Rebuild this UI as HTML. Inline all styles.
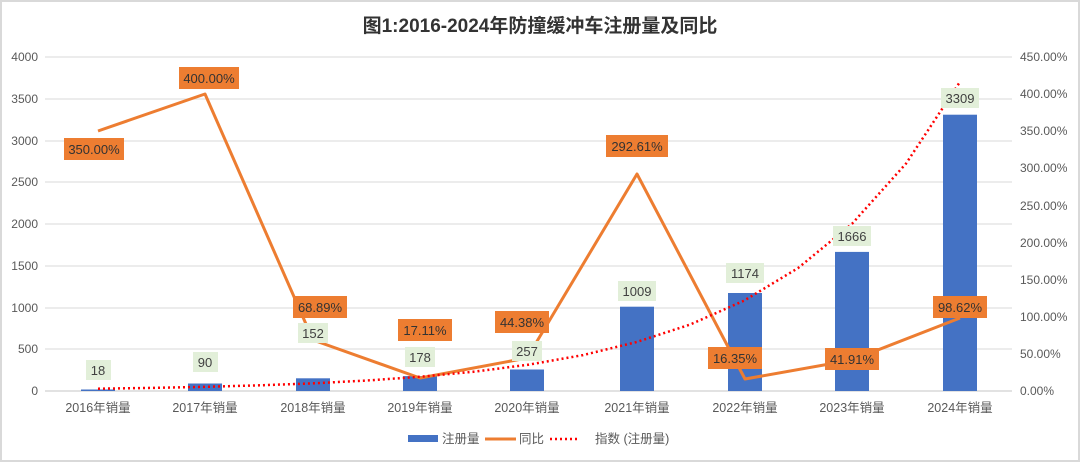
<!DOCTYPE html>
<html><head><meta charset="utf-8"><style>
html,body{margin:0;padding:0;background:#fff;}
svg text{font-family:"Liberation Sans","Noto Sans CJK SC",sans-serif;}
</style></head><body>
<svg width="1080" height="462" viewBox="0 0 1080 462" xmlns="http://www.w3.org/2000/svg">
<rect x="0" y="0" width="1080" height="462" fill="#fff"/>
<rect x="1" y="1" width="1078" height="460" fill="none" stroke="#d9d9d9" stroke-width="2"/>
<text x="540" y="32" text-anchor="middle" font-size="19" font-weight="bold" fill="#333">图1:2016-2024年防撞缓冲车注册量及同比</text>
<g stroke="#e6e6e6" stroke-width="1.5">
<line x1="45" x2="1012" y1="57" y2="57"/><line x1="45" x2="1012" y1="99" y2="99"/>
<line x1="45" x2="1012" y1="141" y2="141"/><line x1="45" x2="1012" y1="182" y2="182"/>
<line x1="45" x2="1012" y1="224" y2="224"/><line x1="45" x2="1012" y1="266" y2="266"/>
<line x1="45" x2="1012" y1="308" y2="308"/><line x1="45" x2="1012" y1="349" y2="349"/>
</g>
<line x1="45" x2="1012" y1="391" y2="391" stroke="#d9d9d9" stroke-width="1.5"/>
<g font-size="12" fill="#595959" text-anchor="end">
<text x="38" y="61">4000</text><text x="38" y="103">3500</text><text x="38" y="145">3000</text>
<text x="38" y="186">2500</text><text x="38" y="228">2000</text><text x="38" y="270">1500</text>
<text x="38" y="312">1000</text><text x="38" y="353">500</text><text x="38" y="395">0</text>
</g>
<g font-size="12" fill="#595959" text-anchor="start">
<text x="1020" y="61">450.00%</text><text x="1020" y="98">400.00%</text><text x="1020" y="135">350.00%</text>
<text x="1020" y="172">300.00%</text><text x="1020" y="210">250.00%</text><text x="1020" y="247">200.00%</text>
<text x="1020" y="284">150.00%</text><text x="1020" y="321">100.00%</text><text x="1020" y="358">50.00%</text>
<text x="1020" y="395">0.00%</text>
</g>
<g fill="#4472c4">
<rect x="81" y="389.5" width="34" height="1.5"/>
<rect x="188" y="383.5" width="34" height="7.5"/>
<rect x="296" y="378.3" width="34" height="12.7"/>
<rect x="403" y="376.1" width="34" height="14.9"/>
<rect x="510" y="369.5" width="34" height="21.5"/>
<rect x="620" y="306.7" width="34" height="84.3"/>
<rect x="728" y="293" width="34" height="98"/>
<rect x="835" y="251.9" width="34" height="139.1"/>
<rect x="943" y="114.7" width="34" height="276.3"/>
</g>
<polyline fill="none" stroke="#ed7d31" stroke-width="3" stroke-linejoin="round" points="98,131 205,94 313,340 420,378 527,358 637,174 745,379 852,360 960,318"/>
<polyline fill="none" stroke="#ff0000" stroke-width="2.5" stroke-dasharray="2,3" points="98,388.7 152,387.9 206,386.8 260,385.3 314,383.3 367,380.5 421,376.7 475,371.6 529,364.6 583,355.1 636,342.2 690,324.6 744,300.7 798,268.1 852,223.8 906,163.6 960,81.8"/>
<g font-size="13" fill="#404040" text-anchor="middle">
<rect x="86" y="360" width="25" height="20" fill="#e2efd9"/><text x="98" y="375">18</text>
<rect x="193" y="352" width="25" height="20" fill="#e2efd9"/><text x="205" y="367">90</text>
<rect x="298" y="323" width="30" height="20" fill="#e2efd9"/><text x="313" y="338">152</text>
<rect x="405" y="347" width="30" height="20" fill="#e2efd9"/><text x="420" y="362">178</text>
<rect x="512" y="341" width="30" height="20" fill="#e2efd9"/><text x="527" y="356">257</text>
<rect x="618" y="281" width="38" height="20" fill="#e2efd9"/><text x="637" y="296">1009</text>
<rect x="726" y="263" width="38" height="20" fill="#e2efd9"/><text x="745" y="278">1174</text>
<rect x="833" y="226" width="38" height="20" fill="#e2efd9"/><text x="852" y="241">1666</text>
<rect x="941" y="88" width="38" height="20" fill="#e2efd9"/><text x="960" y="103">3309</text>
</g>
<g font-size="13" fill="#333" text-anchor="middle">
<rect x="64" y="138" width="60" height="22" fill="#ed7d31"/><text x="94" y="154">350.00%</text>
<rect x="179" y="67" width="60" height="22" fill="#ed7d31"/><text x="209" y="83">400.00%</text>
<rect x="293" y="296" width="54" height="22" fill="#ed7d31"/><text x="320" y="312">68.89%</text>
<rect x="398" y="319" width="54" height="22" fill="#ed7d31"/><text x="425" y="335">17.11%</text>
<rect x="495" y="311" width="54" height="22" fill="#ed7d31"/><text x="522" y="327">44.38%</text>
<rect x="606" y="135" width="62" height="22" fill="#ed7d31"/><text x="637" y="151">292.61%</text>
<rect x="708" y="347" width="54" height="22" fill="#ed7d31"/><text x="735" y="363">16.35%</text>
<rect x="825" y="348" width="54" height="22" fill="#ed7d31"/><text x="852" y="364">41.91%</text>
<rect x="933" y="296" width="54" height="22" fill="#ed7d31"/><text x="960" y="312">98.62%</text>
</g>
<g font-size="12.5" fill="#595959" text-anchor="middle">
<text x="98" y="412">2016年销量</text><text x="205" y="412">2017年销量</text><text x="313" y="412">2018年销量</text>
<text x="420" y="412">2019年销量</text><text x="527" y="412">2020年销量</text><text x="637" y="412">2021年销量</text>
<text x="745" y="412">2022年销量</text><text x="852" y="412">2023年销量</text><text x="960" y="412">2024年销量</text>
</g>
<rect x="408" y="435" width="30" height="7" fill="#4472c4"/>
<text x="442" y="443" font-size="12.5" fill="#595959">注册量</text>
<line x1="485" x2="516" y1="439" y2="439" stroke="#ed7d31" stroke-width="3"/>
<text x="519" y="443" font-size="12.5" fill="#595959">同比</text>
<line x1="550" x2="580" y1="439" y2="439" stroke="#ff0000" stroke-width="2.5" stroke-dasharray="2,3"/>
<text x="595" y="443" font-size="12.5" fill="#595959">指数 (注册量)</text>
</svg>
</body></html>
